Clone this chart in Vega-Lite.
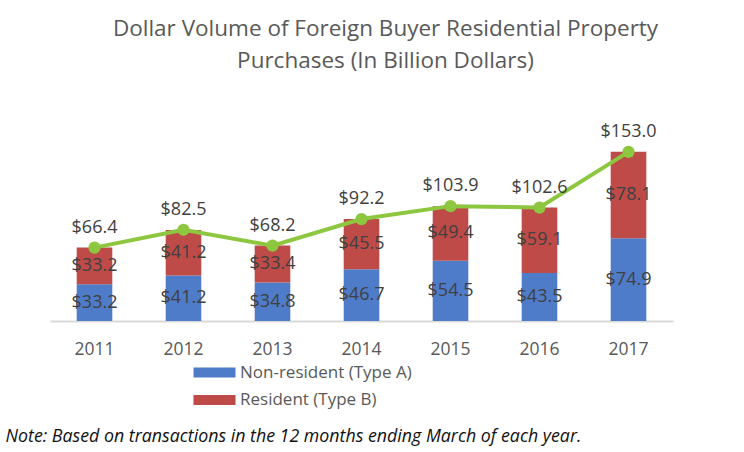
{
  "$schema": "https://vega.github.io/schema/vega-lite/v6.json",
  "autosize": {"type": "none"},
  "padding": {"left": 50, "top": 122, "right": 71, "bottom": 131},
  "width": 623,
  "height": 199,
  "background": "white",
  "title": {
    "text": ["Dollar Volume of Foreign Buyer Residential Property", "Purchases (In Billion Dollars)"],
    "anchor": "middle",
    "dx": 24,
    "offset": 50,
    "fontSize": 22.5,
    "fontWeight": "normal",
    "font": "Open Sans",
    "color": "#595959",
    "lineHeight": 32
  },
  "config": {
    "view": {"stroke": null},
    "text": {"font": "Open Sans"}
  },
  "datasets": {
    "segments": [
      {"year": "2011", "type": "Non-resident (Type A)", "value": 33.2},
      {"year": "2011", "type": "Resident (Type B)", "value": 33.2},
      {"year": "2012", "type": "Non-resident (Type A)", "value": 41.2},
      {"year": "2012", "type": "Resident (Type B)", "value": 41.2},
      {"year": "2013", "type": "Non-resident (Type A)", "value": 34.8},
      {"year": "2013", "type": "Resident (Type B)", "value": 33.4},
      {"year": "2014", "type": "Non-resident (Type A)", "value": 46.7},
      {"year": "2014", "type": "Resident (Type B)", "value": 45.5},
      {"year": "2015", "type": "Non-resident (Type A)", "value": 54.5},
      {"year": "2015", "type": "Resident (Type B)", "value": 49.4},
      {"year": "2016", "type": "Non-resident (Type A)", "value": 43.5},
      {"year": "2016", "type": "Resident (Type B)", "value": 59.1},
      {"year": "2017", "type": "Non-resident (Type A)", "value": 74.9},
      {"year": "2017", "type": "Resident (Type B)", "value": 78.1}
    ],
    "totals": [
      {"year": "2011", "total": 66.4},
      {"year": "2012", "total": 82.5},
      {"year": "2013", "total": 68.2},
      {"year": "2014", "total": 92.2},
      {"year": "2015", "total": 103.9},
      {"year": "2016", "total": 102.6},
      {"year": "2017", "total": 153.0}
    ]
  },
  "encoding": {
    "x": {
      "field": "year",
      "type": "nominal",
      "scale": {"paddingInner": 0.6, "paddingOuter": 0.3},
      "axis": {
        "title": "Note: Based on transactions in the 12 months ending March of each year.",
        "titleFont": "Open Sans",
        "titleFontStyle": "italic",
        "titleFontWeight": "normal",
        "titleFontSize": 17.8,
        "titleColor": "#111111",
        "titleAnchor": "start",
        "titleAlign": "left",
        "titleBaseline": "middle",
        "titleX": -45,
        "titleY": 115,
        "labelAngle": 0,
        "labelFont": "Open Sans",
        "labelFontSize": 17.5,
        "labelColor": "#595959",
        "labelPadding": 19,
        "ticks": false,
        "domainColor": "#D9D9D9",
        "domainWidth": 2
      }
    }
  },
  "layer": [
    {
      "data": {"name": "segments"},
      "mark": {"type": "bar"},
      "encoding": {
        "y": {
          "field": "value",
          "type": "quantitative",
          "stack": "zero",
          "scale": {"domain": [0, 180], "nice": false},
          "axis": null
        },
        "order": {"field": "type", "sort": "ascending"},
        "color": {
          "field": "type",
          "type": "nominal",
          "scale": {
            "domain": ["Non-resident (Type A)", "Resident (Type B)"],
            "range": ["#4F7CC9", "#BE4B48"]
          },
          "legend": {
            "title": null,
            "orient": "none",
            "legendX": 140,
            "legendY": 242,
            "direction": "vertical",
            "symbolType": "M-1,-1H7.4V1H-1Z",
            "symbolSize": 100,
            "symbolStrokeWidth": 0,
            "labelFont": "Open Sans",
            "labelFontSize": 17,
            "labelLimit": 400,
            "labelColor": "#595959",
            "labelOffset": 33,
            "rowPadding": 9.5
          }
        }
      }
    },
    {
      "data": {"name": "segments"},
      "transform": [
        {"stack": "value", "groupby": ["year"], "sort": [{"field": "type"}], "as": ["v0", "v1"]},
        {"fold": ["v0", "v1"], "as": ["k", "pos"]},
        {"aggregate": [{"op": "mean", "field": "pos", "as": "mid"}, {"op": "max", "field": "value", "as": "lab"}], "groupby": ["year", "type"]}
      ],
      "mark": {"type": "text", "fontSize": 18, "color": "#404040", "baseline": "middle"},
      "encoding": {
        "y": {"field": "mid", "type": "quantitative"},
        "text": {"field": "lab", "type": "quantitative", "format": "$.1f"}
      }
    },
    {
      "data": {"name": "totals"},
      "mark": {"type": "line", "color": "#8DC63F", "strokeWidth": 4},
      "encoding": {
        "y": {"field": "total", "type": "quantitative"}
      }
    },
    {
      "data": {"name": "totals"},
      "mark": {"type": "point", "filled": true, "color": "#8DC63F", "size": 150, "opacity": 1},
      "encoding": {
        "y": {"field": "total", "type": "quantitative"}
      }
    },
    {
      "data": {"name": "totals"},
      "mark": {"type": "text", "fontSize": 18, "color": "#404040", "dy": -20, "baseline": "middle"},
      "encoding": {
        "y": {"field": "total", "type": "quantitative"},
        "text": {"field": "total", "type": "quantitative", "format": "$.1f"}
      }
    }
  ]
}
